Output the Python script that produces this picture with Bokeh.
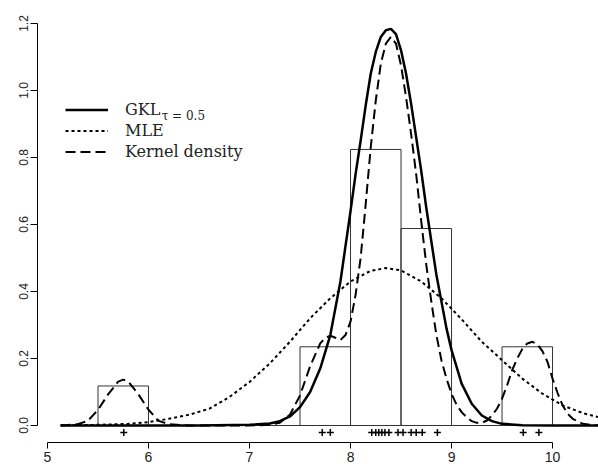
from bokeh.plotting import figure
from bokeh.models import Range1d, FixedTicker, PrintfTickFormatter, Legend, LegendItem, Label
from bokeh.embed import file_html
from bokeh.resources import INLINE

# ---- data ----
x_ticks = [5, 6, 7, 8, 9, 10]
y_ticks = [0.0, 0.2, 0.4, 0.6, 0.8, 1.0, 1.2]

bin_left = [5.5, 6.0, 6.5, 7.0, 7.5, 8.0, 8.5, 9.0, 9.5]
bin_right = [6.0, 6.5, 7.0, 7.5, 8.0, 8.5, 9.0, 9.5, 10.0]
bin_density = [0.118, 0.0, 0.0, 0.0, 0.235, 0.824, 0.588, 0.0, 0.235]

rug_x = [5.755, 7.72, 7.80, 8.21, 8.25, 8.28, 8.31, 8.34, 8.38, 8.47,
         8.52, 8.60, 8.65, 8.71, 8.86, 9.71, 9.865]

gkl_x = [5.13, 6.0, 6.5, 7.0, 7.2, 7.3, 7.4, 7.5, 7.6, 7.7, 7.8, 7.9, 8.0, 8.05,
         8.1, 8.15, 8.2, 8.25, 8.3, 8.35, 8.4, 8.45, 8.5, 8.55, 8.6, 8.65, 8.7,
         8.75, 8.8, 8.85, 8.9, 8.95, 9.0, 9.1, 9.2, 9.3, 9.4, 9.5, 9.7, 10.0, 10.49]
gkl_y = [0, 0, 0, 0.002, 0.006, 0.013, 0.027, 0.055, 0.10, 0.17, 0.27, 0.43, 0.64, 0.75,
         0.85, 0.955, 1.05, 1.115, 1.16, 1.18, 1.184, 1.168, 1.12, 1.05, 0.96, 0.86, 0.76,
         0.65, 0.55, 0.45, 0.37, 0.29, 0.225, 0.125, 0.065, 0.03, 0.013, 0.005, 0.001, 0, 0]

mle_x = [5.13, 5.5, 5.8, 6.0, 6.2, 6.4, 6.6, 6.8, 7.0, 7.2, 7.4, 7.6, 7.8, 8.0, 8.2,
         8.35, 8.5, 8.7, 8.9, 9.1, 9.3, 9.5, 9.7, 9.9, 10.1, 10.3, 10.49]
mle_y = [0.001, 0.002, 0.005, 0.01, 0.02, 0.032, 0.05, 0.085, 0.13, 0.185, 0.25, 0.32,
         0.38, 0.43, 0.462, 0.47, 0.463, 0.43, 0.38, 0.317, 0.25, 0.195, 0.14, 0.095,
         0.06, 0.037, 0.022]

kde_x = [5.13, 5.3, 5.4, 5.5, 5.6, 5.7, 5.75, 5.8, 5.9, 6.0, 6.1, 6.2, 6.4, 7.0, 7.2,
         7.3, 7.4, 7.5, 7.6, 7.7, 7.75, 7.8, 7.85, 7.9, 7.95, 8.0, 8.05, 8.1, 8.15, 8.2,
         8.25, 8.3, 8.35, 8.4, 8.45, 8.5, 8.55, 8.6, 8.65, 8.7, 8.75, 8.8, 8.85, 8.9,
         8.95, 9.0, 9.05, 9.1, 9.15, 9.2, 9.25, 9.3, 9.35, 9.4, 9.45, 9.5, 9.55, 9.6,
         9.65, 9.7, 9.75, 9.8, 9.85, 9.9, 9.95, 10.0, 10.05, 10.1, 10.15, 10.2, 10.3,
         10.4, 10.49]
kde_y = [0, 0.004, 0.014, 0.047, 0.093, 0.131, 0.137, 0.131, 0.093, 0.047, 0.014, 0.004,
         0, 0, 0.002, 0.008, 0.032, 0.09, 0.177, 0.245, 0.262, 0.268, 0.262, 0.255, 0.27,
         0.31, 0.39, 0.5, 0.66, 0.83, 0.97, 1.08, 1.14, 1.16, 1.14, 1.075, 0.98, 0.87,
         0.75, 0.61, 0.48, 0.37, 0.27, 0.195, 0.14, 0.095, 0.062, 0.04, 0.025, 0.013,
         0.008, 0.008, 0.015, 0.03, 0.05, 0.08, 0.12, 0.165, 0.2, 0.228, 0.245, 0.25,
         0.242, 0.222, 0.19, 0.14, 0.097, 0.06, 0.035, 0.02, 0.005, 0.001, 0]

legend_labels = ["GKL", "MLE", "Kernel density"]
subscript_text = "τ = 0.5"

# ---- figure ----
p = figure(width=598, height=466, output_backend="svg", toolbar_location=None,
           x_range=Range1d(4.901, 10.455), y_range=Range1d(-0.0507, 1.2537),
           min_border_left=37, min_border_right=0, min_border_top=5,
           min_border_bottom=24)
p.outline_line_color = None
p.xgrid.grid_line_color = None
p.ygrid.grid_line_color = None
p.background_fill_color = "white"
p.border_fill_color = "white"

for ax in (p.xaxis[0], p.yaxis[0]):
    ax.axis_line_color = "black"
    ax.axis_line_width = 1
    ax.major_tick_line_color = "black"
    ax.major_tick_in = 0
    ax.minor_tick_in = 0
    ax.minor_tick_out = 0
    ax.major_label_text_color = "#222222"
    ax.major_label_text_font = "Liberation Sans"

xa = p.xaxis[0]
xa.ticker = FixedTicker(ticks=x_ticks)
xa.bounds = (5, 10)
xa.major_tick_out = 6
xa.major_label_standoff = 3
xa.major_label_text_font_size = "14px"

ya = p.yaxis[0]
ya.ticker = FixedTicker(ticks=y_ticks)
ya.bounds = (0, 1.2)
ya.formatter = PrintfTickFormatter(format="%.1f")
ya.major_tick_out = 7
ya.major_label_standoff = 2
ya.major_label_orientation = "vertical"
ya.major_label_text_font_size = "12px"

# histogram
p.quad(left=bin_left, right=bin_right, bottom=0, top=bin_density,
       fill_color=None, line_color="#333333", line_width=1)

# curves
r_gkl = p.line(gkl_x, gkl_y, line_color="black", line_width=2.5)
r_mle = p.line(mle_x, mle_y, line_color="black", line_width=2, line_dash="3 3")
r_kde = p.line(kde_x, kde_y, line_color="black", line_width=2, line_dash="10 5")

# rug points
p.scatter(rug_x, [-0.021] * len(rug_x), marker="cross", size=7,
          line_color="black", line_width=1.5)

legend = Legend(items=[LegendItem(label=legend_labels[0], renderers=[r_gkl]),
                       LegendItem(label=legend_labels[1], renderers=[r_mle]),
                       LegendItem(label=legend_labels[2], renderers=[r_kde])],
                location=(28, 281), border_line_color=None,
                background_fill_alpha=0, padding=0, margin=0, spacing=2,
                glyph_width=43, glyph_height=15, label_height=15,
                label_standoff=17, label_text_font="DejaVu Serif",
                label_text_font_size="16px", label_text_color="#222222")
p.add_layout(legend)

p.add_layout(Label(x=6.13, y=0.925, text=subscript_text, text_font="DejaVu Serif",
                   text_font_size="12px", text_baseline="middle",
                   text_color="#222222"))

open("out.html", "w").write(file_html(p, INLINE))
